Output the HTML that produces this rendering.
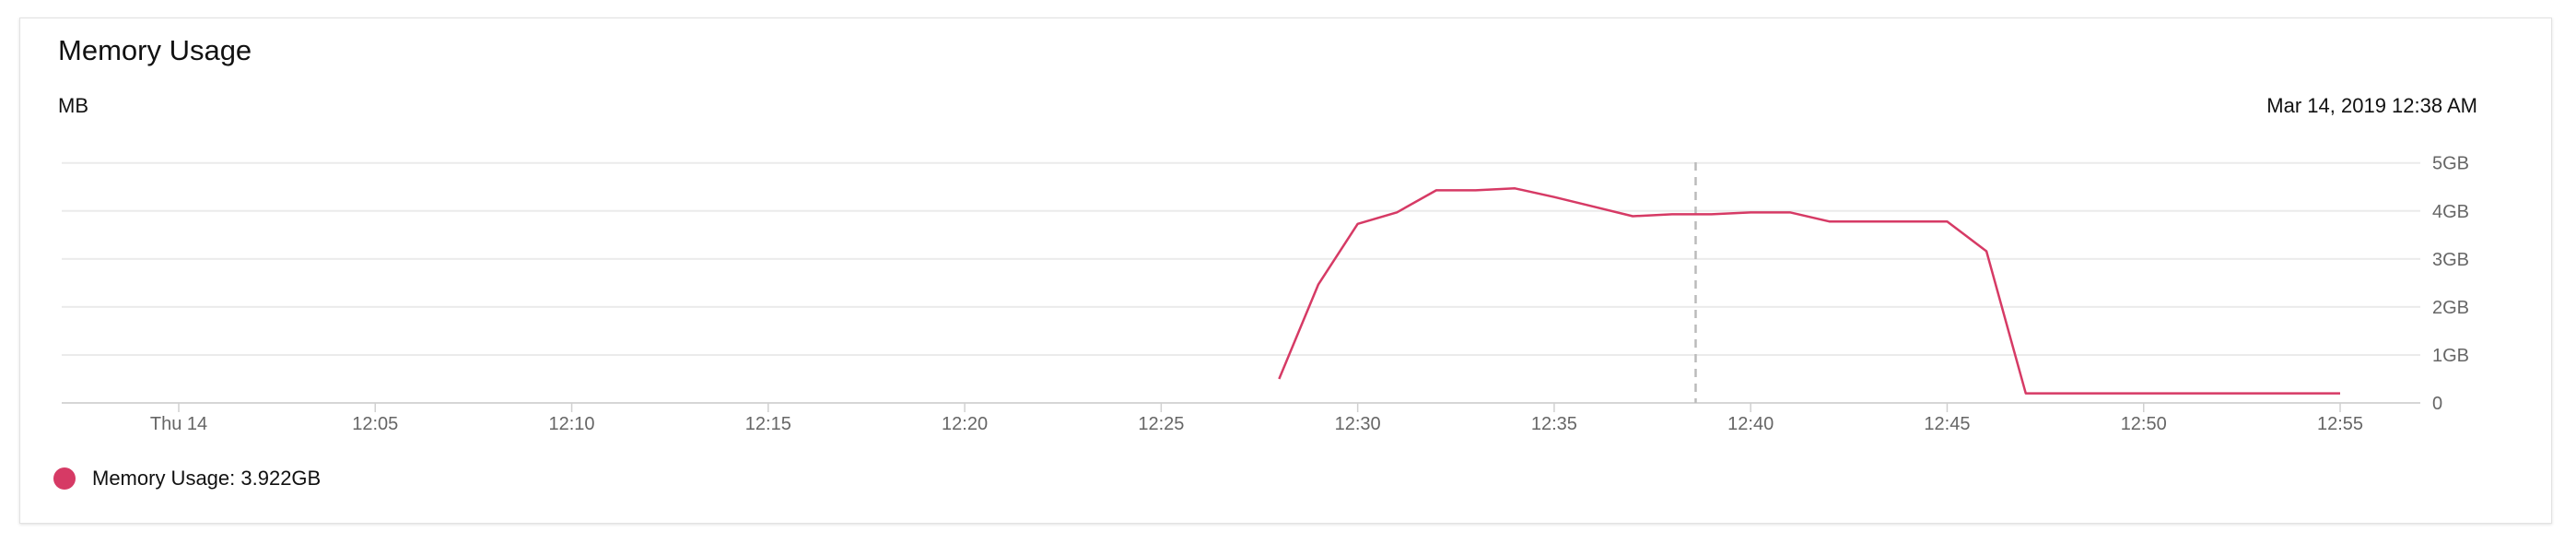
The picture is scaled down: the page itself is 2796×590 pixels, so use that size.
<!DOCTYPE html>
<html><head><meta charset="utf-8"><style>
html,body{margin:0;padding:0;background:#fff;width:2796px;height:590px;overflow:hidden;font-family:"Liberation Sans",sans-serif;}
#card{position:absolute;left:21px;top:19px;width:2747px;height:547px;border:1px solid #e2e2e2;box-shadow:0 1px 3px rgba(0,0,0,0.12);background:#fff;}
.t{position:absolute;white-space:nowrap;}
</style></head><body>
<div id="card"></div>
<div class="t" style="left:63px;top:37px;font-size:31px;color:#111;">Memory Usage</div>
<div class="t" style="left:63px;top:102px;font-size:22px;color:#111;">MB</div>
<div class="t" style="right:107px;top:102px;font-size:22px;color:#111;">Mar 14, 2019 12:38 AM</div>
<svg id="chart" width="2796" height="590" style="position:absolute;left:0;top:0"></svg>
<div class="t" style="left:58px;top:507px;height:26px;">
<span style="position:absolute;left:0;top:0;width:24px;height:24px;border-radius:50%;background:#d63a65;"></span>
<span style="position:absolute;left:42px;top:-1px;font-size:22px;color:#111;">Memory Usage: 3.922GB</span>
</div>
<script>
const minutes=[28,29,30,31,32,33,34,35,36,37,38,39,40,41,42,43,44,45,46,47,48,49,50,51,52,53,54,55];
const memoryGB=[0.5,2.47,3.73,3.97,4.43,4.43,4.47,4.29,4.09,3.89,3.93,3.93,3.97,3.97,3.78,3.78,3.78,3.78,3.16,0.2,0.2,0.2,0.2,0.2,0.2,0.2,0.2,0.2];
const yTicks=[0,1,2,3,4,5];
const yTickLabels=["0","1GB","2GB","3GB","4GB","5GB"];
const xTicks=[0,5,10,15,20,25,30,35,40,45,50,55];
const xTickLabels=["Thu 14","12:05","12:10","12:15","12:20","12:25","12:30","12:35","12:40","12:45","12:50","12:55"];
const cursorMinute=38.6;

const NS="http://www.w3.org/2000/svg";
const svg=document.getElementById('chart');
const x=m=>194+m*(2540-194)/55;
const y=v=>437-v*(437-176.7)/5;
function mk(t,a){const e=document.createElementNS(NS,t);for(const k in a)e.setAttribute(k,a[k]);svg.appendChild(e);return e;}
yTicks.forEach((v,i)=>{
  const g=mk('line',{x1:67,x2:2627,y1:y(v),y2:y(v),stroke:v===0?'#d6d6d6':'#ebebeb','stroke-width':2});
  
  
  const t=mk('text',{x:2640,y:y(v)+7,'font-size':20,fill:'#666','font-family':'Liberation Sans, sans-serif'});
  t.textContent=yTickLabels[i];
  
  
});
xTicks.forEach((m,i)=>{
  const k=mk('line',{x1:x(m),x2:x(m),y1:437,y2:447,stroke:'#d0d0d0','stroke-width':1.5});
  
  
  const t=mk('text',{x:x(m),y:466,'font-size':20,fill:'#666','text-anchor':'middle','font-family':'Liberation Sans, sans-serif'});
  t.textContent=xTickLabels[i];
  
  
});
const c=mk('line',{x1:x(cursorMinute),x2:x(cursorMinute),y1:176,y2:437,stroke:'#bbb','stroke-width':2.5,'stroke-dasharray':'9,7'});


const p=mk('polyline',{points:minutes.map((m,i)=>x(m)+','+y(memoryGB[i])).join(' '),fill:'none',stroke:'#d63a65','stroke-width':2.5,'stroke-linejoin':'round'});


</script>
</body></html>
